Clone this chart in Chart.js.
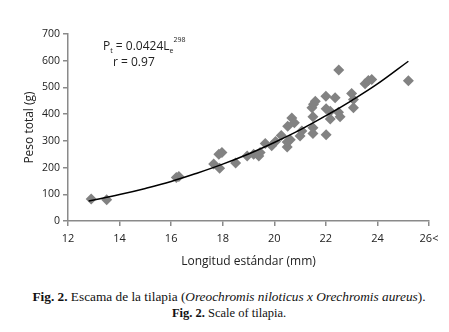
<!DOCTYPE html>
<html>
<head>
<meta charset="utf-8">
<script src="https://cdn.jsdelivr.net/npm/chart.js@4.4.0/dist/chart.umd.min.js"></script>
<style>
  body { margin: 0; background: #fff; width: 449px; height: 332px; overflow: hidden; }
  #wrap { position: relative; width: 449px; height: 276px; }
  .cap { font-family: "Liberation Serif", "Times New Roman", serif; font-size: 12.5px; color: #111; text-align: center; padding-left: 9px; line-height: 17px; white-space: nowrap; }
  .cap b { font-weight: bold; }
</style>
</head>
<body>
<div id="wrap"><canvas id="chart-canvas"></canvas></div>
<div class="cap" style="margin-top:12px; font-size:13.3px"><b>Fig. 2.</b> Escama de la tilapia (<i>Oreochromis niloticus x Orechromis aureus</i>).</div>
<div class="cap"><b>Fig. 2.</b> Scale of tilapia.</div>
<script>
// longitud (mm) and peso (g) of each fish
var lengths = [12.9, 13.5, 16.2, 16.3, 17.65, 17.85, 17.97, 17.88, 18.5, 18.95,
               19.2, 19.4, 19.45, 19.65, 19.9, 20.05, 20.27, 20.5, 20.5, 20.52,
               20.62, 20.68, 20.78, 21.0, 21.07, 21.46, 21.52, 21.59, 21.5, 21.5,
               21.5, 22.0, 22.01, 22.01, 22.17, 22.17, 22.36, 22.49, 22.5, 22.55,
               23.0, 23.07, 23.07, 23.52, 23.65, 23.78, 25.2];
var weights = [82, 80, 163, 167, 213, 250, 256, 197, 217, 243,
               250, 243, 256, 290, 282, 298, 320, 277, 296, 355,
               304, 386, 368, 318, 337, 424, 437, 448, 390, 349,
               328, 467, 420, 323, 411, 382, 461, 407, 565, 390,
               477, 455, 424, 514, 526, 530, 525];

// fitted curve as drawn in the figure
var curveX = [12.8, 14, 15, 16, 17, 18, 19, 20, 21, 22, 23, 24, 25.2];
var curveY = [75, 99, 122, 148, 179, 213, 251, 294, 341, 394, 451, 513, 598];

var xTicks = [12, 14, 16, 18, 20, 22, 24, 26];

var axisColor = '#8a8a8a';
var textColor = '#222';
var font = '"Open Sans", "DejaVu Sans", sans-serif';

var scatterPoints = lengths.map(function (l, i) { return { x: l, y: weights[i] }; });
var curvePoints = curveX.map(function (l, i) { return { x: l, y: curveY[i] }; });

var equationLabel = {
    id: 'equationLabel',
    afterDraw: function (chart) {
        var ctx = chart.ctx;
        ctx.save();
        ctx.fillStyle = textColor;
        ctx.textBaseline = 'alphabetic';
        var big = '12px ' + font, small = '7px ' + font;
        var x = 103, y = 50;
        var parts = [
            ['P', big, 0], ['t', small, 3], [' = 0.0424L', big, 0], ['e', small, 3], ['298', small, -8]
        ];
        parts.forEach(function (p) {
            ctx.font = p[1];
            ctx.fillText(p[0], x, y + p[2]);
            x += ctx.measureText(p[0]).width;
        });
        ctx.font = big;
        ctx.fillText('r = 0.97', 113, 66);
        ctx.restore();
    }
};

var ctx = document.getElementById('chart-canvas').getContext('2d');
var chart = new Chart(ctx, {
    type: 'scatter',
    data: {
        datasets: [
            {
                type: 'line',
                label: 'ajuste',
                data: curvePoints,
                borderColor: '#000',
                borderWidth: 1.5,
                pointRadius: 0,
                tension: 0.4,
                fill: false,
                order: 0
            },
            {
                label: 'Peso',
                data: scatterPoints,
                pointStyle: 'rectRot',
                pointRadius: 5.5,
                pointHoverRadius: 5.5,
                backgroundColor: '#828282',
                borderColor: '#828282',
                borderWidth: 0,
                order: 1
            }
        ]
    },
    options: {
        responsive: true,
        maintainAspectRatio: false,
        animation: false,
        layout: { padding: { top: 34, right: 20, bottom: 4, left: 0 } },
        plugins: {
            legend: { display: false },
            tooltip: { enabled: false }
        },
        scales: {
            x: {
                type: 'linear',
                min: 12,
                max: 26,
                afterBuildTicks: function (scale) {
                    scale.ticks = xTicks.map(function (v) { return { value: v }; });
                },
                afterFit: function (scale) { scale.height = 51; },
                ticks: {
                    color: textColor,
                    font: { family: font, size: 11 },
                    padding: 6,
                    maxRotation: 0,
                    callback: function (v) { return v === 26 ? '26<' : v; }
                },
                grid: { drawOnChartArea: false, color: axisColor, tickLength: 5, lineWidth: 1.5 },
                border: { color: axisColor, width: 1.5 },
                title: {
                    display: true,
                    text: 'Longitud estándar (mm)',
                    color: textColor,
                    font: { family: font, size: 12 },
                    padding: { top: 6, bottom: 3 }
                }
            },
            y: {
                min: 0,
                max: 700,
                afterFit: function (scale) { scale.width = 68; },
                ticks: {
                    stepSize: 100,
                    color: textColor,
                    font: { family: font, size: 10.5 },
                    padding: 3
                },
                grid: { drawOnChartArea: false, color: axisColor, tickLength: 5, lineWidth: 1.5 },
                border: { color: axisColor, width: 1.5 },
                title: {
                    display: true,
                    text: 'Peso total (g)',
                    color: textColor,
                    font: { family: font, size: 12 },
                    padding: { top: 22, bottom: 0 }
                }
            }
        }
    },
    plugins: [equationLabel]
});
</script>
</body>
</html>
